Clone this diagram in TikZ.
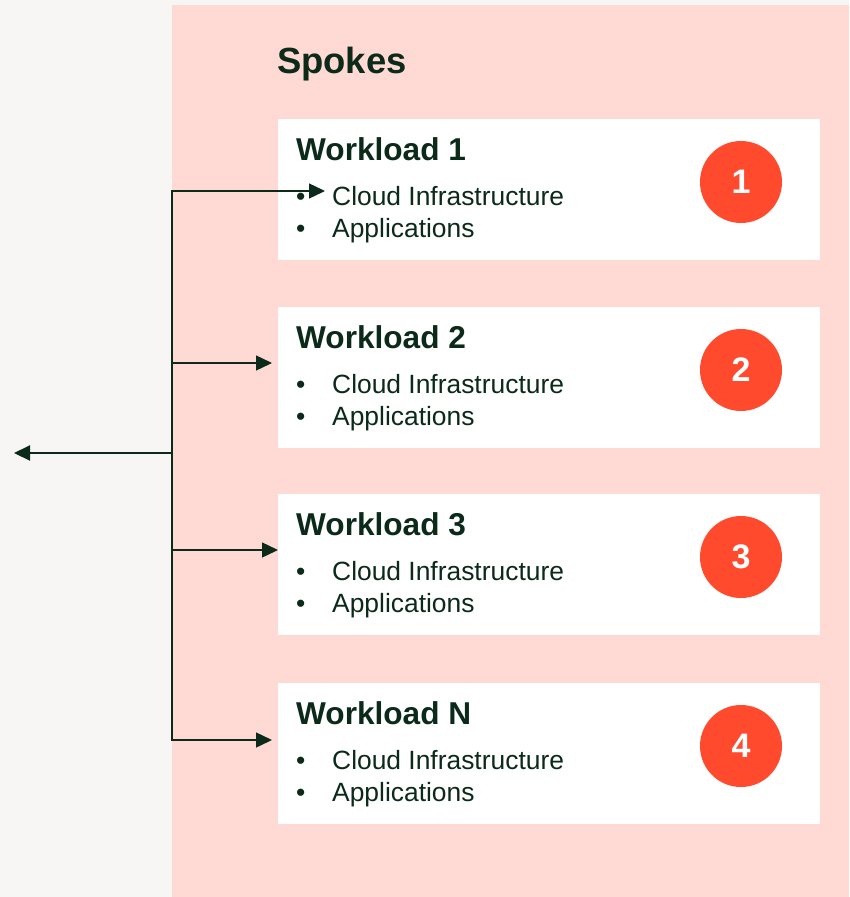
\documentclass[tikz,border=0pt]{standalone}
\usepackage{xcolor}
\usepackage{fontspec}
\setmainfont{Liberation Sans}
\usetikzlibrary{arrows.meta}

\definecolor{paper}{HTML}{F7F6F4}
\definecolor{spokepink}{HTML}{FFD9D4}
\definecolor{badge}{HTML}{FF4A2E}
\definecolor{ink}{HTML}{0B2A1A}

\tikzset{
	workload/.style={fill=white,minimum width=542pt,minimum height=141pt,inner sep=0pt,anchor=north west},
	heading/.style={font=\fontsize{31.6}{31.6}\selectfont\bfseries,text=ink,anchor=base west,inner sep=0pt},
	item/.style={font=\fontsize{26.4}{26.4}\selectfont,text=ink,anchor=base west,inner sep=0pt},
	badgenode/.style={circle,fill=badge,minimum size=82pt,inner sep=0pt,text=white,font=\fontsize{34}{34}\selectfont\bfseries},
	link/.style={draw=ink,line width=1.4pt,-{Triangle[length=16pt,width=15pt]}}
}

\begin{document}
\begin{tikzpicture}[x=1pt,y=-1pt]
	\fill[paper] (0,0) rectangle (849,897);
	\fill[spokepink] (172,5) rectangle (849,897);
	
	\node[anchor=base west,inner sep=0pt,text=ink,font=\fontsize{36.4}{36.4}\selectfont\bfseries] (spokes) at (277,73) {Spokes};
	
	\node[workload] (w1) at (278,119) {};
	\node[heading] (h1) at (296,160) {Workload 1};
	\node[item] (d1a) at (296,205) {•};
	\node[item] (c1) at (332,205) {Cloud Infrastructure};
	\node[item] (d1b) at (296,237) {•};
	\node[item] (a1) at (332,237) {Applications};
	\node[badgenode] (n1) at (741,182) {1};
	
	\node[workload] (w2) at (278,307) {};
	\node[heading] (h2) at (296,348) {Workload 2};
	\node[item] (d2a) at (296,393) {•};
	\node[item] (c2) at (332,393) {Cloud Infrastructure};
	\node[item] (d2b) at (296,425) {•};
	\node[item] (a2) at (332,425) {Applications};
	\node[badgenode] (n2) at (741,370) {2};
	
	\node[workload] (w3) at (278,494) {};
	\node[heading] (h3) at (296,535) {Workload 3};
	\node[item] (d3a) at (296,580) {•};
	\node[item] (c3) at (332,580) {Cloud Infrastructure};
	\node[item] (d3b) at (296,612) {•};
	\node[item] (a3) at (332,612) {Applications};
	\node[badgenode] (n3) at (741,557) {3};
	
	\node[workload] (w4) at (278,683) {};
	\node[heading] (h4) at (296,724) {Workload N};
	\node[item] (d4a) at (296,769) {•};
	\node[item] (c4) at (332,769) {Cloud Infrastructure};
	\node[item] (d4b) at (296,801) {•};
	\node[item] (a4) at (332,801) {Applications};
	\node[badgenode] (n4) at (741,746) {4};
	
	\coordinate (hub) at (172,453);
	\coordinate (out) at (14,453);
	\coordinate (t1) at (325,191);
	\coordinate (t2) at (272,363);
	\coordinate (t3) at (278,550);
	\coordinate (t4) at (272,740);
	
	\draw[link] (hub) |- (t1);
	\draw[link] (hub) |- (t2);
	\draw[link] (hub) |- (t3);
	\draw[link] (hub) |- (t4);
	\draw[link,line width=2pt] (hub) -- (out);
\end{tikzpicture}
\end{document}
